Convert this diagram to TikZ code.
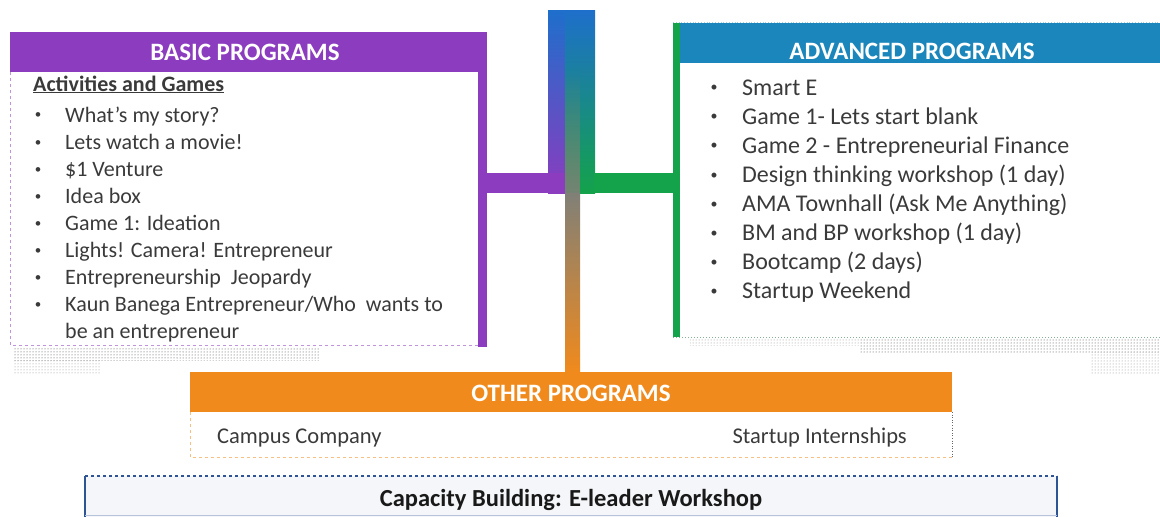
\documentclass[tikz,border=0pt]{standalone}
\usepackage{fontspec}
\setmainfont{Carlito}
\usetikzlibrary{patterns,fadings}
\definecolor{bpurple}{HTML}{8B3CBF}
\definecolor{ablue}{HTML}{1A86BB}
\definecolor{agreen}{HTML}{14A24B}
\definecolor{cblue}{HTML}{1E6FCB}
\definecolor{oorange}{HTML}{F18A1C}
\definecolor{txtgray}{HTML}{3A3A3A}
\definecolor{capblue}{HTML}{2F5496}
\definecolor{capfill}{HTML}{F4F6F9}
\definecolor{midgray}{HTML}{808078}
\tikzset{
  hdr/.style={font=\fontsize{25}{30}\selectfont\bfseries, text=white, inner sep=0pt},
  itm/.style={font=\fontsize{22}{26}\selectfont, text=txtgray, anchor=base west, inner sep=0pt},
  aitm/.style={font=\fontsize{24}{28}\selectfont, text=txtgray, anchor=base west, inner sep=0pt},
  bul/.style={font=\fontsize{13}{14}\selectfont, text=txtgray, anchor=center, inner sep=0pt},
  shadowdots/.style={pattern=dots, pattern color=black!75},
}
\begin{document}
\begin{tikzpicture}[x=1pt,y=-1pt]
\useasboundingbox (0,0) rectangle (1160,517);

% ---------- shadow speckle ----------
\fill[shadowdots] (14,348) rectangle (320,360);
\fill[pattern=dots, pattern color=black!45] (14,360) rectangle (100,374);
\fill[shadowdots] (860,339) rectangle (1160,352);
\fill[pattern=dots, pattern color=black!45] (690,339) rectangle (860,345);
\fill[pattern=dots, pattern color=black!45] (1090,352) rectangle (1160,374);

% ---------- connectors ----------
\coordinate (top) at (565,10);
\shade[top color=cblue, bottom color=bpurple] (548,10) rectangle (566,193);
\fill[bpurple] (487,173) rectangle (566,193);
\shade[top color=cblue, bottom color=agreen] (565,10) rectangle (595,193);
\fill[agreen] (594,173) rectangle (674,193);
\fill[midgray, path fading=north, opacity=0.9] (565,70) rectangle (580,193);
\shade[top color=midgray, bottom color=oorange] (565,193) rectangle (580,373);

% ---------- basic programs ----------
\fill[bpurple] (10,32) rectangle (487,72);
\draw[bpurple!55, dashed, line width=0.6pt] (10,72) -- (10,345) -- (480,345);
\fill[bpurple] (478,32) rectangle (487,347);
\node[hdr] (basichdr) at (245,52) {BASIC PROGRAMS};
\node[itm, font=\fontsize{22}{26}\selectfont\bfseries] (actg) at (33,91) {\underline{Activities and Games}};
\foreach \t [count=\i from 0] in {What’s my story?, Lets watch a movie!, \$1 Venture, Idea box, Game 1: Ideation, Lights! Camera! Entrepreneur, Entrepreneurship\ \ Jeopardy, Kaun Banega Entrepreneur/Who\ \ wants to}{
  \node[bul] (bb\i) at (38,116+27.1*\i) {•};
  \node[itm] (bt\i) at (65,122+27.1*\i) {\t};
}
\node[itm] (bt8) at (65,122+27.1*8) {be an entrepreneur};

% ---------- advanced programs ----------
\fill[ablue] (680,23) rectangle (1160,63);
\draw[ablue!40, dotted, line width=0.8pt] (673,22.5) -- (1160,22.5);
\fill[agreen] (673,23) rectangle (680,337);
\draw[agreen!40!gray!70, dotted, line width=1pt] (673,337) -- (1160,337);
\node[hdr] (advhdr) at (912,51) {ADVANCED PROGRAMS};
\foreach \t [count=\i from 0] in {Smart E, Game 1- Lets start blank, Game 2 - Entrepreneurial Finance, Design thinking workshop (1 day), AMA Townhall (Ask Me Anything), BM and BP workshop (1 day), Bootcamp (2 days), Startup Weekend}{
  \node[bul, font=\fontsize{14}{15}\selectfont] (ab\i) at (714,88.5+29.1*\i) {•};
  \node[aitm] (at\i) at (742,95+29.1*\i) {\t};
}

% ---------- other programs ----------
\fill[oorange] (190,372) rectangle (952,412);
\draw[oorange!55, dashed, line width=0.6pt] (190,412) -- (190,457) -- (952,457);
\draw[black!60, dotted, line width=0.6pt] (952,412) -- (952,457);
\node[hdr] (othhdr) at (571,393) {OTHER PROGRAMS};
\node[itm, font=\fontsize{22.5}{26}\selectfont] (campus) at (217,443) {Campus Company};
\node[itm, font=\fontsize{22.5}{26}\selectfont, anchor=base east] (intern) at (907,443) {Startup Internships};

% ---------- capacity building ----------
\fill[capfill] (85,476) rectangle (1057,517);
\draw[capblue, dashed, line width=1.5pt] (85,476) -- (1057,476);
\draw[capblue, line width=1.2pt] (85,517) -- (85,476);
\draw[capblue, line width=1.2pt] (1057,476) -- (1057,517);
\draw[capblue!35, line width=1.5pt] (85,515.5) -- (1057,515.5);
\node[font=\fontsize{24.5}{28}\selectfont\bfseries, text=black!90, inner sep=0pt] (cap) at (571,500) {Capacity Building: E-leader Workshop};
\end{tikzpicture}
\end{document}
